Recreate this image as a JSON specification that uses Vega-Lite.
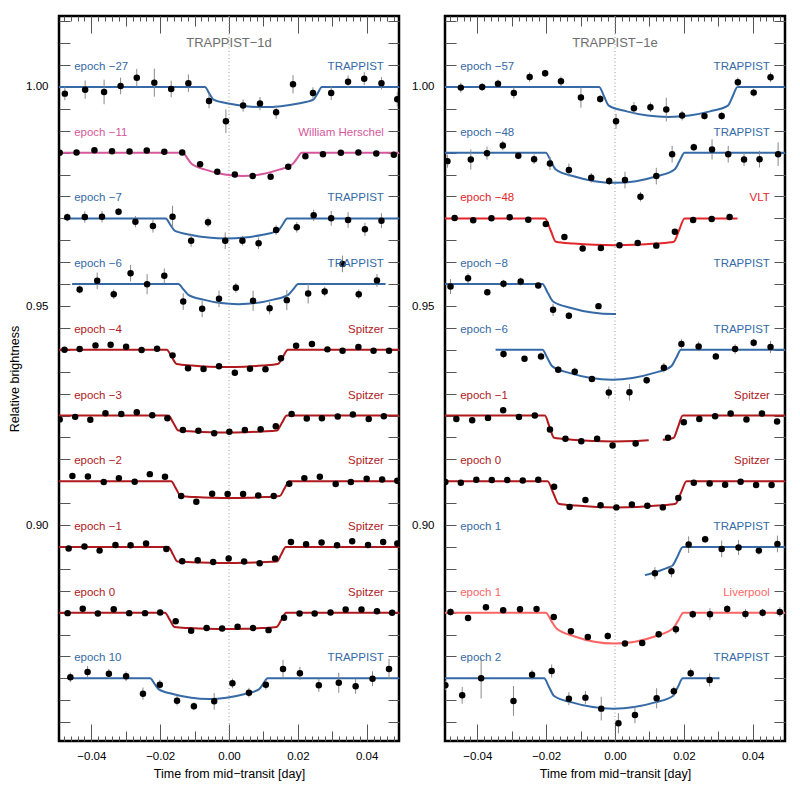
{
"$schema": "https://vega.github.io/schema/vega-lite/v6.json",
"padding": {"left": 7, "top": 14, "right": 5, "bottom": 5},
"config": {
  "font": "Liberation Sans",
  "view": {"stroke": "black", "strokeWidth": 2.5},
  "axis": {"domain": false, "grid": false, "tickColor": "#555", "tickWidth": 1, "labelColor": "black", "titleColor": "black", "labelFontSize": 11.5, "titleFontSize": 12.5, "titleFontWeight": "normal", "labelOverlap": false, "labelFlush": false, "labelBound": false},
  "concat": {"spacing": 9}
},
"datasets": {
"lab": [
{"p":"d","b":1.0,"ep":"epoch −27","i":"TRAPPIST"},
{"p":"d","b":0.985,"ep":"epoch −11","i":"William Herschel"},
{"p":"d","b":0.97,"ep":"epoch −7","i":"TRAPPIST"},
{"p":"d","b":0.955,"ep":"epoch −6","i":"TRAPPIST"},
{"p":"d","b":0.94,"ep":"epoch −4","i":"Spitzer"},
{"p":"d","b":0.925,"ep":"epoch −3","i":"Spitzer"},
{"p":"d","b":0.91,"ep":"epoch −2","i":"Spitzer"},
{"p":"d","b":0.895,"ep":"epoch −1","i":"Spitzer"},
{"p":"d","b":0.88,"ep":"epoch 0","i":"Spitzer"},
{"p":"d","b":0.865,"ep":"epoch 10","i":"TRAPPIST"},
{"p":"e","b":1.0,"ep":"epoch −57","i":"TRAPPIST"},
{"p":"e","b":0.985,"ep":"epoch −48","i":"TRAPPIST"},
{"p":"e","b":0.97,"ep":"epoch −48","i":"VLT"},
{"p":"e","b":0.955,"ep":"epoch −8","i":"TRAPPIST"},
{"p":"e","b":0.94,"ep":"epoch −6","i":"TRAPPIST"},
{"p":"e","b":0.925,"ep":"epoch −1","i":"Spitzer"},
{"p":"e","b":0.91,"ep":"epoch 0","i":"Spitzer"},
{"p":"e","b":0.895,"ep":"epoch 1","i":"TRAPPIST"},
{"p":"e","b":0.88,"ep":"epoch 1","i":"Liverpool"},
{"p":"e","b":0.865,"ep":"epoch 2","i":"TRAPPIST"}
],
"crv": [
{"p":"d","c":"d-27","i":"TRAPPIST","t":-0.0494,"v":1.0},{"p":"d","c":"d-27","i":"TRAPPIST","t":-0.007,"v":1.0},{"p":"d","c":"d-27","i":"TRAPPIST","t":-0.00575,"v":0.99855},{"p":"d","c":"d-27","i":"TRAPPIST","t":-0.0045,"v":0.9971},{"p":"d","c":"d-27","i":"TRAPPIST","t":-0.00015,"v":0.99623},{"p":"d","c":"d-27","i":"TRAPPIST","t":0.00493,"v":0.99561},{"p":"d","c":"d-27","i":"TRAPPIST","t":0.01,"v":0.9954},{"p":"d","c":"d-27","i":"TRAPPIST","t":0.01508,"v":0.99561},{"p":"d","c":"d-27","i":"TRAPPIST","t":0.02015,"v":0.99623},{"p":"d","c":"d-27","i":"TRAPPIST","t":0.0245,"v":0.9971},{"p":"d","c":"d-27","i":"TRAPPIST","t":0.02575,"v":0.99855},{"p":"d","c":"d-27","i":"TRAPPIST","t":0.027,"v":1.0},{"p":"d","c":"d-27","i":"TRAPPIST","t":0.0494,"v":1.0},
{"p":"d","c":"d-11","i":"William Herschel","t":-0.0494,"v":0.985},{"p":"d","c":"d-11","i":"William Herschel","t":-0.0134,"v":0.985},{"p":"d","c":"d-11","i":"William Herschel","t":-0.0121,"v":0.9837},{"p":"d","c":"d-11","i":"William Herschel","t":-0.0108,"v":0.9824},{"p":"d","c":"d-11","i":"William Herschel","t":-0.0064,"v":0.98102},{"p":"d","c":"d-11","i":"William Herschel","t":-0.00128,"v":0.98003},{"p":"d","c":"d-11","i":"William Herschel","t":0.00385,"v":0.9797},{"p":"d","c":"d-11","i":"William Herschel","t":0.00898,"v":0.98003},{"p":"d","c":"d-11","i":"William Herschel","t":0.01411,"v":0.98102},{"p":"d","c":"d-11","i":"William Herschel","t":0.0185,"v":0.9824},{"p":"d","c":"d-11","i":"William Herschel","t":0.0198,"v":0.9837},{"p":"d","c":"d-11","i":"William Herschel","t":0.0211,"v":0.985},{"p":"d","c":"d-11","i":"William Herschel","t":0.0494,"v":0.985},
{"p":"d","c":"d-7","i":"TRAPPIST","t":-0.048,"v":0.97},{"p":"d","c":"d-7","i":"TRAPPIST","t":-0.0184,"v":0.97},{"p":"d","c":"d-7","i":"TRAPPIST","t":-0.0171,"v":0.9686},{"p":"d","c":"d-7","i":"TRAPPIST","t":-0.0158,"v":0.9672},{"p":"d","c":"d-7","i":"TRAPPIST","t":-0.01129,"v":0.96628},{"p":"d","c":"d-7","i":"TRAPPIST","t":-0.00602,"v":0.96562},{"p":"d","c":"d-7","i":"TRAPPIST","t":-0.00075,"v":0.9654},{"p":"d","c":"d-7","i":"TRAPPIST","t":0.00452,"v":0.96562},{"p":"d","c":"d-7","i":"TRAPPIST","t":0.00979,"v":0.96628},{"p":"d","c":"d-7","i":"TRAPPIST","t":0.0143,"v":0.9672},{"p":"d","c":"d-7","i":"TRAPPIST","t":0.0156,"v":0.9686},{"p":"d","c":"d-7","i":"TRAPPIST","t":0.0169,"v":0.97},{"p":"d","c":"d-7","i":"TRAPPIST","t":0.0494,"v":0.97},
{"p":"d","c":"d-6","i":"TRAPPIST","t":-0.0456,"v":0.955},{"p":"d","c":"d-6","i":"TRAPPIST","t":-0.0147,"v":0.955},{"p":"d","c":"d-6","i":"TRAPPIST","t":-0.01325,"v":0.95378},{"p":"d","c":"d-6","i":"TRAPPIST","t":-0.0118,"v":0.95255},{"p":"d","c":"d-6","i":"TRAPPIST","t":-0.00745,"v":0.95145},{"p":"d","c":"d-6","i":"TRAPPIST","t":-0.00238,"v":0.95066},{"p":"d","c":"d-6","i":"TRAPPIST","t":0.0027,"v":0.9504},{"p":"d","c":"d-6","i":"TRAPPIST","t":0.00778,"v":0.95066},{"p":"d","c":"d-6","i":"TRAPPIST","t":0.01285,"v":0.95145},{"p":"d","c":"d-6","i":"TRAPPIST","t":0.0172,"v":0.95255},{"p":"d","c":"d-6","i":"TRAPPIST","t":0.01865,"v":0.95378},{"p":"d","c":"d-6","i":"TRAPPIST","t":0.0201,"v":0.955},{"p":"d","c":"d-6","i":"TRAPPIST","t":0.0455,"v":0.955},
{"p":"d","c":"d-4","i":"Spitzer","t":-0.0494,"v":0.94},{"p":"d","c":"d-4","i":"Spitzer","t":-0.0181,"v":0.94},{"p":"d","c":"d-4","i":"Spitzer","t":-0.01665,"v":0.93838},{"p":"d","c":"d-4","i":"Spitzer","t":-0.0152,"v":0.93676},{"p":"d","c":"d-4","i":"Spitzer","t":-0.01079,"v":0.93641},{"p":"d","c":"d-4","i":"Spitzer","t":-0.00565,"v":0.93616},{"p":"d","c":"d-4","i":"Spitzer","t":-0.0005,"v":0.93607},{"p":"d","c":"d-4","i":"Spitzer","t":0.00465,"v":0.93616},{"p":"d","c":"d-4","i":"Spitzer","t":0.00979,"v":0.93641},{"p":"d","c":"d-4","i":"Spitzer","t":0.0142,"v":0.93676},{"p":"d","c":"d-4","i":"Spitzer","t":0.01565,"v":0.93838},{"p":"d","c":"d-4","i":"Spitzer","t":0.0171,"v":0.94},{"p":"d","c":"d-4","i":"Spitzer","t":0.0494,"v":0.94},
{"p":"d","c":"d-3","i":"Spitzer","t":-0.0494,"v":0.925},{"p":"d","c":"d-3","i":"Spitzer","t":-0.0176,"v":0.925},{"p":"d","c":"d-3","i":"Spitzer","t":-0.01615,"v":0.92329},{"p":"d","c":"d-3","i":"Spitzer","t":-0.0147,"v":0.92157},{"p":"d","c":"d-3","i":"Spitzer","t":-0.01041,"v":0.92134},{"p":"d","c":"d-3","i":"Spitzer","t":-0.00541,"v":0.92117},{"p":"d","c":"d-3","i":"Spitzer","t":-0.0004,"v":0.92111},{"p":"d","c":"d-3","i":"Spitzer","t":0.00461,"v":0.92117},{"p":"d","c":"d-3","i":"Spitzer","t":0.00961,"v":0.92134},{"p":"d","c":"d-3","i":"Spitzer","t":0.0139,"v":0.92157},{"p":"d","c":"d-3","i":"Spitzer","t":0.01535,"v":0.92329},{"p":"d","c":"d-3","i":"Spitzer","t":0.0168,"v":0.925},{"p":"d","c":"d-3","i":"Spitzer","t":0.0494,"v":0.925},
{"p":"d","c":"d-2","i":"Spitzer","t":-0.0494,"v":0.91},{"p":"d","c":"d-2","i":"Spitzer","t":-0.0168,"v":0.91},{"p":"d","c":"d-2","i":"Spitzer","t":-0.0154,"v":0.90831},{"p":"d","c":"d-2","i":"Spitzer","t":-0.014,"v":0.90661},{"p":"d","c":"d-2","i":"Spitzer","t":-0.0097,"v":0.90638},{"p":"d","c":"d-2","i":"Spitzer","t":-0.00467,"v":0.90622},{"p":"d","c":"d-2","i":"Spitzer","t":0.00035,"v":0.90616},{"p":"d","c":"d-2","i":"Spitzer","t":0.00537,"v":0.90622},{"p":"d","c":"d-2","i":"Spitzer","t":0.0104,"v":0.90638},{"p":"d","c":"d-2","i":"Spitzer","t":0.0147,"v":0.90661},{"p":"d","c":"d-2","i":"Spitzer","t":0.0161,"v":0.90831},{"p":"d","c":"d-2","i":"Spitzer","t":0.0175,"v":0.91},{"p":"d","c":"d-2","i":"Spitzer","t":0.0494,"v":0.91},
{"p":"d","c":"d-1","i":"Spitzer","t":-0.0494,"v":0.895},{"p":"d","c":"d-1","i":"Spitzer","t":-0.0176,"v":0.895},{"p":"d","c":"d-1","i":"Spitzer","t":-0.0163,"v":0.89333},{"p":"d","c":"d-1","i":"Spitzer","t":-0.015,"v":0.89166},{"p":"d","c":"d-1","i":"Spitzer","t":-0.01067,"v":0.89151},{"p":"d","c":"d-1","i":"Spitzer","t":-0.00561,"v":0.8914},{"p":"d","c":"d-1","i":"Spitzer","t":-0.00055,"v":0.89136},{"p":"d","c":"d-1","i":"Spitzer","t":0.00451,"v":0.8914},{"p":"d","c":"d-1","i":"Spitzer","t":0.00957,"v":0.89151},{"p":"d","c":"d-1","i":"Spitzer","t":0.0139,"v":0.89166},{"p":"d","c":"d-1","i":"Spitzer","t":0.0152,"v":0.89333},{"p":"d","c":"d-1","i":"Spitzer","t":0.0165,"v":0.895},{"p":"d","c":"d-1","i":"Spitzer","t":0.0494,"v":0.895},
{"p":"d","c":"d0","i":"Spitzer","t":-0.0494,"v":0.88},{"p":"d","c":"d0","i":"Spitzer","t":-0.0186,"v":0.88},{"p":"d","c":"d0","i":"Spitzer","t":-0.0172,"v":0.87835},{"p":"d","c":"d0","i":"Spitzer","t":-0.0158,"v":0.8767},{"p":"d","c":"d0","i":"Spitzer","t":-0.01136,"v":0.87647},{"p":"d","c":"d0","i":"Spitzer","t":-0.00618,"v":0.8763},{"p":"d","c":"d0","i":"Spitzer","t":-0.001,"v":0.87624},{"p":"d","c":"d0","i":"Spitzer","t":0.00418,"v":0.8763},{"p":"d","c":"d0","i":"Spitzer","t":0.00936,"v":0.87647},{"p":"d","c":"d0","i":"Spitzer","t":0.0138,"v":0.8767},{"p":"d","c":"d0","i":"Spitzer","t":0.0152,"v":0.87835},{"p":"d","c":"d0","i":"Spitzer","t":0.0166,"v":0.88},{"p":"d","c":"d0","i":"Spitzer","t":0.0494,"v":0.88},
{"p":"d","c":"d10","i":"TRAPPIST","t":-0.0456,"v":0.865},{"p":"d","c":"d10","i":"TRAPPIST","t":-0.0229,"v":0.865},{"p":"d","c":"d10","i":"TRAPPIST","t":-0.02165,"v":0.86375},{"p":"d","c":"d10","i":"TRAPPIST","t":-0.0204,"v":0.8625},{"p":"d","c":"d10","i":"TRAPPIST","t":-0.01604,"v":0.86138},{"p":"d","c":"d10","i":"TRAPPIST","t":-0.01094,"v":0.86057},{"p":"d","c":"d10","i":"TRAPPIST","t":-0.00585,"v":0.8603},{"p":"d","c":"d10","i":"TRAPPIST","t":-0.00076,"v":0.86057},{"p":"d","c":"d10","i":"TRAPPIST","t":0.00434,"v":0.86138},{"p":"d","c":"d10","i":"TRAPPIST","t":0.0087,"v":0.8625},{"p":"d","c":"d10","i":"TRAPPIST","t":0.00995,"v":0.86375},{"p":"d","c":"d10","i":"TRAPPIST","t":0.0112,"v":0.865},{"p":"d","c":"d10","i":"TRAPPIST","t":0.0494,"v":0.865},
{"p":"e","c":"e-57","i":"TRAPPIST","t":-0.0494,"v":1.0},{"p":"e","c":"e-57","i":"TRAPPIST","t":-0.0046,"v":1.0},{"p":"e","c":"e-57","i":"TRAPPIST","t":-0.0032,"v":0.99788},{"p":"e","c":"e-57","i":"TRAPPIST","t":-0.0018,"v":0.99575},{"p":"e","c":"e-57","i":"TRAPPIST","t":0.00339,"v":0.99443},{"p":"e","c":"e-57","i":"TRAPPIST","t":0.00945,"v":0.99349},{"p":"e","c":"e-57","i":"TRAPPIST","t":0.0155,"v":0.99317},{"p":"e","c":"e-57","i":"TRAPPIST","t":0.02156,"v":0.99349},{"p":"e","c":"e-57","i":"TRAPPIST","t":0.02761,"v":0.99443},{"p":"e","c":"e-57","i":"TRAPPIST","t":0.0328,"v":0.99575},{"p":"e","c":"e-57","i":"TRAPPIST","t":0.0342,"v":0.99788},{"p":"e","c":"e-57","i":"TRAPPIST","t":0.0356,"v":1.0},{"p":"e","c":"e-57","i":"TRAPPIST","t":0.0494,"v":1.0},
{"p":"e","c":"e-48T","i":"TRAPPIST","t":-0.0494,"v":0.985},{"p":"e","c":"e-48T","i":"TRAPPIST","t":-0.0201,"v":0.985},{"p":"e","c":"e-48T","i":"TRAPPIST","t":-0.01865,"v":0.98309},{"p":"e","c":"e-48T","i":"TRAPPIST","t":-0.0172,"v":0.98117},{"p":"e","c":"e-48T","i":"TRAPPIST","t":-0.01203,"v":0.97962},{"p":"e","c":"e-48T","i":"TRAPPIST","t":-0.00599,"v":0.9785},{"p":"e","c":"e-48T","i":"TRAPPIST","t":0.00005,"v":0.97813},{"p":"e","c":"e-48T","i":"TRAPPIST","t":0.00609,"v":0.9785},{"p":"e","c":"e-48T","i":"TRAPPIST","t":0.01213,"v":0.97962},{"p":"e","c":"e-48T","i":"TRAPPIST","t":0.0173,"v":0.98117},{"p":"e","c":"e-48T","i":"TRAPPIST","t":0.01875,"v":0.98309},{"p":"e","c":"e-48T","i":"TRAPPIST","t":0.0202,"v":0.985},{"p":"e","c":"e-48T","i":"TRAPPIST","t":0.0494,"v":0.985},
{"p":"e","c":"e-48V","i":"VLT","t":-0.0494,"v":0.97},{"p":"e","c":"e-48V","i":"VLT","t":-0.0203,"v":0.97},{"p":"e","c":"e-48V","i":"VLT","t":-0.01875,"v":0.96735},{"p":"e","c":"e-48V","i":"VLT","t":-0.0172,"v":0.96469},{"p":"e","c":"e-48V","i":"VLT","t":-0.01206,"v":0.96427},{"p":"e","c":"e-48V","i":"VLT","t":-0.00605,"v":0.96396},{"p":"e","c":"e-48V","i":"VLT","t":-0.00005,"v":0.96386},{"p":"e","c":"e-48V","i":"VLT","t":0.00595,"v":0.96396},{"p":"e","c":"e-48V","i":"VLT","t":0.01196,"v":0.96427},{"p":"e","c":"e-48V","i":"VLT","t":0.0171,"v":0.96469},{"p":"e","c":"e-48V","i":"VLT","t":0.01865,"v":0.96735},{"p":"e","c":"e-48V","i":"VLT","t":0.0202,"v":0.97},{"p":"e","c":"e-48V","i":"VLT","t":0.0356,"v":0.97},
{"p":"e","c":"e-8","i":"TRAPPIST","t":-0.0494,"v":0.955},{"p":"e","c":"e-8","i":"TRAPPIST","t":-0.0211,"v":0.955},{"p":"e","c":"e-8","i":"TRAPPIST","t":-0.01955,"v":0.95302},{"p":"e","c":"e-8","i":"TRAPPIST","t":-0.018,"v":0.95103},{"p":"e","c":"e-8","i":"TRAPPIST","t":-0.01275,"v":0.94956},{"p":"e","c":"e-8","i":"TRAPPIST","t":-0.00663,"v":0.9485},{"p":"e","c":"e-8","i":"TRAPPIST","t":-0.0005,"v":0.94815},{"p":"e","c":"e-8","i":"TRAPPIST","t":0.0003,"v":0.94816},
{"p":"e","c":"e-6","i":"TRAPPIST","t":-0.0347,"v":0.94},{"p":"e","c":"e-6","i":"TRAPPIST","t":-0.0211,"v":0.94},{"p":"e","c":"e-6","i":"TRAPPIST","t":-0.01965,"v":0.93811},{"p":"e","c":"e-6","i":"TRAPPIST","t":-0.0182,"v":0.93622},{"p":"e","c":"e-6","i":"TRAPPIST","t":-0.01303,"v":0.93467},{"p":"e","c":"e-6","i":"TRAPPIST","t":-0.00699,"v":0.93356},{"p":"e","c":"e-6","i":"TRAPPIST","t":-0.00095,"v":0.93319},{"p":"e","c":"e-6","i":"TRAPPIST","t":0.00509,"v":0.93356},{"p":"e","c":"e-6","i":"TRAPPIST","t":0.01113,"v":0.93467},{"p":"e","c":"e-6","i":"TRAPPIST","t":0.0163,"v":0.93622},{"p":"e","c":"e-6","i":"TRAPPIST","t":0.01775,"v":0.93811},{"p":"e","c":"e-6","i":"TRAPPIST","t":0.0192,"v":0.94},{"p":"e","c":"e-6","i":"TRAPPIST","t":0.0494,"v":0.94},
{"p":"e","c":"e-1a","i":"Spitzer","t":-0.0494,"v":0.925},{"p":"e","c":"e-1a","i":"Spitzer","t":-0.0204,"v":0.925},{"p":"e","c":"e-1a","i":"Spitzer","t":-0.01905,"v":0.92246},{"p":"e","c":"e-1a","i":"Spitzer","t":-0.0177,"v":0.91991},{"p":"e","c":"e-1a","i":"Spitzer","t":-0.0125,"v":0.91948},{"p":"e","c":"e-1a","i":"Spitzer","t":-0.00642,"v":0.91917},{"p":"e","c":"e-1a","i":"Spitzer","t":-0.00035,"v":0.91907},{"p":"e","c":"e-1a","i":"Spitzer","t":0.00572,"v":0.91917},{"p":"e","c":"e-1a","i":"Spitzer","t":0.0098,"v":0.91936},
{"p":"e","c":"e-1b","i":"Spitzer","t":0.0139,"v":0.91945},{"p":"e","c":"e-1b","i":"Spitzer","t":0.017,"v":0.91991},{"p":"e","c":"e-1b","i":"Spitzer","t":0.01835,"v":0.92246},{"p":"e","c":"e-1b","i":"Spitzer","t":0.0197,"v":0.925},{"p":"e","c":"e-1b","i":"Spitzer","t":0.0494,"v":0.925},
{"p":"e","c":"e0","i":"Spitzer","t":-0.0494,"v":0.91},{"p":"e","c":"e0","i":"Spitzer","t":-0.0196,"v":0.91},{"p":"e","c":"e0","i":"Spitzer","t":-0.018,"v":0.90744},{"p":"e","c":"e0","i":"Spitzer","t":-0.0164,"v":0.90487},{"p":"e","c":"e0","i":"Spitzer","t":-0.0113,"v":0.90444},{"p":"e","c":"e0","i":"Spitzer","t":-0.00535,"v":0.90413},{"p":"e","c":"e0","i":"Spitzer","t":0.0006,"v":0.90403},{"p":"e","c":"e0","i":"Spitzer","t":0.00655,"v":0.90413},{"p":"e","c":"e0","i":"Spitzer","t":0.0125,"v":0.90444},{"p":"e","c":"e0","i":"Spitzer","t":0.0176,"v":0.90487},{"p":"e","c":"e0","i":"Spitzer","t":0.0192,"v":0.90744},{"p":"e","c":"e0","i":"Spitzer","t":0.0208,"v":0.91},{"p":"e","c":"e0","i":"Spitzer","t":0.0494,"v":0.91},
{"p":"e","c":"e1T","i":"TRAPPIST","t":0.0087,"v":0.88856},{"p":"e","c":"e1T","i":"TRAPPIST","t":0.011,"v":0.88905},{"p":"e","c":"e1T","i":"TRAPPIST","t":0.013,"v":0.88957},{"p":"e","c":"e1T","i":"TRAPPIST","t":0.015,"v":0.89017},{"p":"e","c":"e1T","i":"TRAPPIST","t":0.0167,"v":0.89075},{"p":"e","c":"e1T","i":"TRAPPIST","t":0.0182,"v":0.89288},{"p":"e","c":"e1T","i":"TRAPPIST","t":0.0197,"v":0.895},{"p":"e","c":"e1T","i":"TRAPPIST","t":0.0494,"v":0.895},
{"p":"e","c":"e1L","i":"Liverpool","t":-0.0494,"v":0.88},{"p":"e","c":"e1L","i":"Liverpool","t":-0.0201,"v":0.88},{"p":"e","c":"e1L","i":"Liverpool","t":-0.01855,"v":0.87818},{"p":"e","c":"e1L","i":"Liverpool","t":-0.017,"v":0.87636},{"p":"e","c":"e1L","i":"Liverpool","t":-0.01193,"v":0.87462},{"p":"e","c":"e1L","i":"Liverpool","t":-0.00602,"v":0.87336},{"p":"e","c":"e1L","i":"Liverpool","t":-0.0001,"v":0.87294},{"p":"e","c":"e1L","i":"Liverpool","t":0.00582,"v":0.87336},{"p":"e","c":"e1L","i":"Liverpool","t":0.01173,"v":0.87462},{"p":"e","c":"e1L","i":"Liverpool","t":0.0168,"v":0.87636},{"p":"e","c":"e1L","i":"Liverpool","t":0.01835,"v":0.87818},{"p":"e","c":"e1L","i":"Liverpool","t":0.0199,"v":0.88},{"p":"e","c":"e1L","i":"Liverpool","t":0.0494,"v":0.88},
{"p":"e","c":"e2","i":"TRAPPIST","t":-0.0494,"v":0.865},{"p":"e","c":"e2","i":"TRAPPIST","t":-0.0206,"v":0.865},{"p":"e","c":"e2","i":"TRAPPIST","t":-0.01915,"v":0.86299},{"p":"e","c":"e2","i":"TRAPPIST","t":-0.0177,"v":0.86098},{"p":"e","c":"e2","i":"TRAPPIST","t":-0.01253,"v":0.85951},{"p":"e","c":"e2","i":"TRAPPIST","t":-0.00649,"v":0.85844},{"p":"e","c":"e2","i":"TRAPPIST","t":-0.00045,"v":0.85809},{"p":"e","c":"e2","i":"TRAPPIST","t":0.00559,"v":0.85844},{"p":"e","c":"e2","i":"TRAPPIST","t":0.01163,"v":0.85951},{"p":"e","c":"e2","i":"TRAPPIST","t":0.0168,"v":0.86098},{"p":"e","c":"e2","i":"TRAPPIST","t":0.01825,"v":0.86299},{"p":"e","c":"e2","i":"TRAPPIST","t":0.0197,"v":0.865},{"p":"e","c":"e2","i":"TRAPPIST","t":0.0304,"v":0.865}
],
"pts": [
{"p":"d","t":-0.0477,"v":0.99848,"e":0.0015},{"p":"d","t":-0.0418,"v":0.99939,"e":0.0021},{"p":"d","t":-0.0363,"v":0.99886,"e":0.0028},{"p":"d","t":-0.0315,"v":1.00023,"e":0.0019},{"p":"d","t":-0.0268,"v":1.00213,"e":0.002},{"p":"d","t":-0.0217,"v":1.00099,"e":0.0032},{"p":"d","t":-0.0168,"v":0.99954,"e":0.0019},{"p":"d","t":-0.0118,"v":1.00084,"e":0.002},{"p":"d","t":-0.0058,"v":0.99681,"e":0.0017},{"p":"d","t":-0.0009,"v":0.99218,"e":0.0027},{"p":"d","t":0.0041,"v":0.99575,"e":0.0014},{"p":"d","t":0.009,"v":0.9962,"e":0.0015},{"p":"d","t":0.0137,"v":0.99423,"e":0.0015},{"p":"d","t":0.0186,"v":1.00061,"e":0.0021},{"p":"d","t":0.0244,"v":0.99863,"e":0.0013},{"p":"d","t":0.0297,"v":0.99863,"e":0.0016},{"p":"d","t":0.0346,"v":1.00121,"e":0.0014},{"p":"d","t":0.0393,"v":1.0019,"e":0.0015},{"p":"d","t":0.0443,"v":1.00084,"e":0.0014},{"p":"d","t":0.0489,"v":0.99719,"e":0.0016},
{"p":"d","t":-0.0492,"v":0.98497,"e":0.0003},{"p":"d","t":-0.0443,"v":0.98504,"e":0.0003},{"p":"d","t":-0.0391,"v":0.98557,"e":0.0003},{"p":"d","t":-0.034,"v":0.98535,"e":0.0003},{"p":"d","t":-0.0289,"v":0.98527,"e":0.0003},{"p":"d","t":-0.0239,"v":0.9855,"e":0.0003},{"p":"d","t":-0.0188,"v":0.98519,"e":0.0003},{"p":"d","t":-0.0136,"v":0.98504,"e":0.0003},{"p":"d","t":-0.0084,"v":0.98238,"e":0.0003},{"p":"d","t":-0.0034,"v":0.98064,"e":0.0003},{"p":"d","t":0.0017,"v":0.98003,"e":0.0003},{"p":"d","t":0.0069,"v":0.97965,"e":0.0003},{"p":"d","t":0.0121,"v":0.9795,"e":0.0003},{"p":"d","t":0.0172,"v":0.98178,"e":0.0003},{"p":"d","t":0.0222,"v":0.98421,"e":0.0003},{"p":"d","t":0.0273,"v":0.98466,"e":0.0003},{"p":"d","t":0.0325,"v":0.98497,"e":0.0003},{"p":"d","t":0.0376,"v":0.98504,"e":0.0003},{"p":"d","t":0.0428,"v":0.98481,"e":0.0003},{"p":"d","t":0.0479,"v":0.98451,"e":0.0003},
{"p":"d","t":-0.047,"v":0.97024,"e":0.0009},{"p":"d","t":-0.0419,"v":0.97031,"e":0.0013},{"p":"d","t":-0.0369,"v":0.97039,"e":0.0013},{"p":"d","t":-0.0321,"v":0.97153,"e":0.0008},{"p":"d","t":-0.0272,"v":0.96925,"e":0.0013},{"p":"d","t":-0.0221,"v":0.96826,"e":0.0015},{"p":"d","t":-0.0164,"v":0.97039,"e":0.0025},{"p":"d","t":-0.011,"v":0.96492,"e":0.0014},{"p":"d","t":-0.0061,"v":0.9691,"e":0.0011},{"p":"d","t":-0.0011,"v":0.96492,"e":0.0019},{"p":"d","t":0.0039,"v":0.96492,"e":0.0011},{"p":"d","t":0.0086,"v":0.96431,"e":0.0013},{"p":"d","t":0.0137,"v":0.96735,"e":0.0011},{"p":"d","t":0.0197,"v":0.96796,"e":0.0012},{"p":"d","t":0.0246,"v":0.97069,"e":0.0013},{"p":"d","t":0.0297,"v":0.97001,"e":0.0017},{"p":"d","t":0.0346,"v":0.96963,"e":0.0018},{"p":"d","t":0.0395,"v":0.9675,"e":0.0015},{"p":"d","t":0.0443,"v":0.96948,"e":0.0017},
{"p":"d","t":-0.0434,"v":0.95377,"e":0.0009},{"p":"d","t":-0.0383,"v":0.95574,"e":0.0019},{"p":"d","t":-0.0335,"v":0.9527,"e":0.0011},{"p":"d","t":-0.0286,"v":0.95749,"e":0.0019},{"p":"d","t":-0.0238,"v":0.95498,"e":0.0023},{"p":"d","t":-0.0188,"v":0.95688,"e":0.0017},{"p":"d","t":-0.0133,"v":0.95101,"e":0.0019},{"p":"d","t":-0.0078,"v":0.94936,"e":0.0019},{"p":"d","t":-0.0029,"v":0.95164,"e":0.0019},{"p":"d","t":0.002,"v":0.95415,"e":0.0011},{"p":"d","t":0.007,"v":0.95119,"e":0.0023},{"p":"d","t":0.0118,"v":0.94951,"e":0.0014},{"p":"d","t":0.0168,"v":0.95134,"e":0.0023},{"p":"d","t":0.023,"v":0.95286,"e":0.0023},{"p":"d","t":0.0278,"v":0.95331,"e":0.0011},{"p":"d","t":0.033,"v":0.95961,"e":0.0019},{"p":"d","t":0.0377,"v":0.9527,"e":0.0011},{"p":"d","t":0.043,"v":0.95582,"e":0.0015},
{"p":"d","t":-0.0478,"v":0.94002,"e":0.0003},{"p":"d","t":-0.0434,"v":0.94017,"e":0.0003},{"p":"d","t":-0.0388,"v":0.94101,"e":0.0003},{"p":"d","t":-0.0344,"v":0.94116,"e":0.0003},{"p":"d","t":-0.0299,"v":0.94071,"e":0.0003},{"p":"d","t":-0.0254,"v":0.93995,"e":0.0003},{"p":"d","t":-0.0209,"v":0.94025,"e":0.0003},{"p":"d","t":-0.0164,"v":0.93873,"e":0.0003},{"p":"d","t":-0.0119,"v":0.93577,"e":0.0003},{"p":"d","t":-0.0074,"v":0.93562,"e":0.0003},{"p":"d","t":-0.0029,"v":0.93623,"e":0.0003},{"p":"d","t":0.0017,"v":0.93478,"e":0.0003},{"p":"d","t":0.0061,"v":0.93569,"e":0.0003},{"p":"d","t":0.0106,"v":0.93554,"e":0.0003},{"p":"d","t":0.0151,"v":0.93805,"e":0.0003},{"p":"d","t":0.0195,"v":0.94093,"e":0.0003},{"p":"d","t":0.0241,"v":0.94131,"e":0.0003},{"p":"d","t":0.0286,"v":0.9401,"e":0.0003},{"p":"d","t":0.033,"v":0.93979,"e":0.0003},{"p":"d","t":0.0376,"v":0.94063,"e":0.0003},{"p":"d","t":0.042,"v":0.93979,"e":0.0003},{"p":"d","t":0.0465,"v":0.93979,"e":0.0003},
{"p":"d","t":-0.0492,"v":0.92408,"e":0.0003},{"p":"d","t":-0.0447,"v":0.92469,"e":0.0003},{"p":"d","t":-0.0403,"v":0.92401,"e":0.0003},{"p":"d","t":-0.0359,"v":0.92553,"e":0.0003},{"p":"d","t":-0.0313,"v":0.92537,"e":0.0003},{"p":"d","t":-0.0268,"v":0.92575,"e":0.0003},{"p":"d","t":-0.0223,"v":0.92507,"e":0.0003},{"p":"d","t":-0.0179,"v":0.92438,"e":0.0003},{"p":"d","t":-0.0134,"v":0.92172,"e":0.0003},{"p":"d","t":-0.0089,"v":0.9215,"e":0.0003},{"p":"d","t":-0.0043,"v":0.92096,"e":0.0003},{"p":"d","t":0.0001,"v":0.92127,"e":0.0003},{"p":"d","t":0.0046,"v":0.92172,"e":0.0003},{"p":"d","t":0.0092,"v":0.92188,"e":0.0003},{"p":"d","t":0.0136,"v":0.92256,"e":0.0003},{"p":"d","t":0.0182,"v":0.92537,"e":0.0003},{"p":"d","t":0.0226,"v":0.92431,"e":0.0003},{"p":"d","t":0.027,"v":0.92438,"e":0.0003},{"p":"d","t":0.0316,"v":0.92476,"e":0.0003},{"p":"d","t":0.036,"v":0.92522,"e":0.0003},{"p":"d","t":0.0406,"v":0.92423,"e":0.0003},{"p":"d","t":0.045,"v":0.92484,"e":0.0003},
{"p":"d","t":-0.0455,"v":0.91117,"e":0.0003},{"p":"d","t":-0.041,"v":0.91109,"e":0.0003},{"p":"d","t":-0.0364,"v":0.9098,"e":0.0003},{"p":"d","t":-0.032,"v":0.91071,"e":0.0003},{"p":"d","t":-0.0274,"v":0.90988,"e":0.0003},{"p":"d","t":-0.023,"v":0.91162,"e":0.0003},{"p":"d","t":-0.0186,"v":0.91102,"e":0.0003},{"p":"d","t":-0.0139,"v":0.90661,"e":0.0003},{"p":"d","t":-0.0095,"v":0.90532,"e":0.0003},{"p":"d","t":-0.0049,"v":0.90714,"e":0.0003},{"p":"d","t":-0.0004,"v":0.90707,"e":0.0003},{"p":"d","t":0.0041,"v":0.90707,"e":0.0003},{"p":"d","t":0.0085,"v":0.90677,"e":0.0003},{"p":"d","t":0.013,"v":0.90661,"e":0.0003},{"p":"d","t":0.0175,"v":0.90942,"e":0.0003},{"p":"d","t":0.0219,"v":0.91071,"e":0.0003},{"p":"d","t":0.0264,"v":0.91102,"e":0.0003},{"p":"d","t":0.031,"v":0.90935,"e":0.0003},{"p":"d","t":0.0354,"v":0.9098,"e":0.0003},{"p":"d","t":0.04,"v":0.91056,"e":0.0003},{"p":"d","t":0.0445,"v":0.91041,"e":0.0003},{"p":"d","t":0.0489,"v":0.91011,"e":0.0003},
{"p":"d","t":-0.0466,"v":0.89462,"e":0.0003},{"p":"d","t":-0.042,"v":0.89508,"e":0.0003},{"p":"d","t":-0.0376,"v":0.89416,"e":0.0003},{"p":"d","t":-0.033,"v":0.89546,"e":0.0003},{"p":"d","t":-0.0286,"v":0.89538,"e":0.0003},{"p":"d","t":-0.0241,"v":0.89576,"e":0.0003},{"p":"d","t":-0.0182,"v":0.89454,"e":0.0003},{"p":"d","t":-0.0136,"v":0.89173,"e":0.0003},{"p":"d","t":-0.0091,"v":0.89196,"e":0.0003},{"p":"d","t":-0.0046,"v":0.89158,"e":0.0003},{"p":"d","t":-0.0001,"v":0.89234,"e":0.0003},{"p":"d","t":0.0044,"v":0.89166,"e":0.0003},{"p":"d","t":0.0089,"v":0.89128,"e":0.0003},{"p":"d","t":0.0134,"v":0.89234,"e":0.0003},{"p":"d","t":0.018,"v":0.89614,"e":0.0003},{"p":"d","t":0.0224,"v":0.89561,"e":0.0003},{"p":"d","t":0.0269,"v":0.89599,"e":0.0003},{"p":"d","t":0.0314,"v":0.89538,"e":0.0003},{"p":"d","t":0.0358,"v":0.89629,"e":0.0003},{"p":"d","t":0.0404,"v":0.89546,"e":0.0003},{"p":"d","t":0.0448,"v":0.89614,"e":0.0003},{"p":"d","t":0.0489,"v":0.89576,"e":0.0003},
{"p":"d","t":-0.0469,"v":0.87989,"e":0.0003},{"p":"d","t":-0.0425,"v":0.88087,"e":0.0003},{"p":"d","t":-0.0381,"v":0.87981,"e":0.0003},{"p":"d","t":-0.0335,"v":0.8808,"e":0.0003},{"p":"d","t":-0.029,"v":0.87989,"e":0.0003},{"p":"d","t":-0.0244,"v":0.87989,"e":0.0003},{"p":"d","t":-0.02,"v":0.88004,"e":0.0003},{"p":"d","t":-0.0155,"v":0.87806,"e":0.0003},{"p":"d","t":-0.011,"v":0.87586,"e":0.0003},{"p":"d","t":-0.0065,"v":0.87647,"e":0.0003},{"p":"d","t":-0.002,"v":0.87639,"e":0.0003},{"p":"d","t":0.0025,"v":0.87677,"e":0.0003},{"p":"d","t":0.007,"v":0.87647,"e":0.0003},{"p":"d","t":0.0115,"v":0.87601,"e":0.0003},{"p":"d","t":0.016,"v":0.87882,"e":0.0003},{"p":"d","t":0.0205,"v":0.87981,"e":0.0003},{"p":"d","t":0.0249,"v":0.87981,"e":0.0003},{"p":"d","t":0.0295,"v":0.88004,"e":0.0003},{"p":"d","t":0.0339,"v":0.88072,"e":0.0003},{"p":"d","t":0.0385,"v":0.88072,"e":0.0003},{"p":"d","t":0.043,"v":0.88034,"e":0.0003},{"p":"d","t":0.0474,"v":0.87996,"e":0.0003},
{"p":"d","t":-0.0461,"v":0.86523,"e":0.0011},{"p":"d","t":-0.0411,"v":0.86644,"e":0.0014},{"p":"d","t":-0.0349,"v":0.86606,"e":0.0011},{"p":"d","t":-0.0299,"v":0.86546,"e":0.0011},{"p":"d","t":-0.025,"v":0.86151,"e":0.0014},{"p":"d","t":-0.0201,"v":0.86356,"e":0.0011},{"p":"d","t":-0.0151,"v":0.85991,"e":0.0011},{"p":"d","t":-0.0102,"v":0.85862,"e":0.0009},{"p":"d","t":-0.0043,"v":0.85976,"e":0.0019},{"p":"d","t":0.001,"v":0.86386,"e":0.0011},{"p":"d","t":0.0058,"v":0.86173,"e":0.0011},{"p":"d","t":0.0107,"v":0.86356,"e":0.0011},{"p":"d","t":0.0157,"v":0.86713,"e":0.0021},{"p":"d","t":0.0206,"v":0.86614,"e":0.0015},{"p":"d","t":0.0261,"v":0.86341,"e":0.0015},{"p":"d","t":0.0319,"v":0.86401,"e":0.0023},{"p":"d","t":0.0368,"v":0.86318,"e":0.0017},{"p":"d","t":0.0417,"v":0.86492,"e":0.0017},{"p":"d","t":0.0465,"v":0.86713,"e":0.0023},
{"p":"e","t":-0.0448,"v":0.99985,"e":0.0011},{"p":"e","t":-0.0386,"v":1.0,"e":0.0009},{"p":"e","t":-0.034,"v":1.00076,"e":0.0009},{"p":"e","t":-0.0294,"v":0.99863,"e":0.0013},{"p":"e","t":-0.0248,"v":1.00228,"e":0.0011},{"p":"e","t":-0.0203,"v":1.00311,"e":0.0008},{"p":"e","t":-0.0157,"v":1.00129,"e":0.0011},{"p":"e","t":-0.0099,"v":0.99757,"e":0.0023},{"p":"e","t":-0.0043,"v":0.99727,"e":0.0009},{"p":"e","t":0.0003,"v":0.99218,"e":0.0017},{"p":"e","t":0.0055,"v":0.99514,"e":0.0014},{"p":"e","t":0.0103,"v":0.99537,"e":0.0011},{"p":"e","t":0.0149,"v":0.99484,"e":0.0027},{"p":"e","t":0.0195,"v":0.99347,"e":0.0011},{"p":"e","t":0.026,"v":0.99339,"e":0.0008},{"p":"e","t":0.031,"v":0.99339,"e":0.0009},{"p":"e","t":0.0357,"v":1.00106,"e":0.0011},{"p":"e","t":0.0403,"v":0.99871,"e":0.0009},{"p":"e","t":0.0452,"v":1.0022,"e":0.0011},
{"p":"e","t":-0.0487,"v":0.98307,"e":0.0015},{"p":"e","t":-0.0419,"v":0.98345,"e":0.0023},{"p":"e","t":-0.0372,"v":0.98489,"e":0.0015},{"p":"e","t":-0.0326,"v":0.98664,"e":0.0011},{"p":"e","t":-0.0281,"v":0.98428,"e":0.0008},{"p":"e","t":-0.0235,"v":0.98352,"e":0.0011},{"p":"e","t":-0.0189,"v":0.98254,"e":0.0015},{"p":"e","t":-0.0134,"v":0.98102,"e":0.0015},{"p":"e","t":-0.0069,"v":0.97927,"e":0.0011},{"p":"e","t":-0.0017,"v":0.97851,"e":0.0009},{"p":"e","t":0.0029,"v":0.97874,"e":0.0019},{"p":"e","t":0.0074,"v":0.97494,"e":0.0011},{"p":"e","t":0.012,"v":0.97965,"e":0.0019},{"p":"e","t":0.0166,"v":0.98466,"e":0.0019},{"p":"e","t":0.0229,"v":0.98626,"e":0.0008},{"p":"e","t":0.0282,"v":0.98573,"e":0.0023},{"p":"e","t":0.0329,"v":0.98466,"e":0.0019},{"p":"e","t":0.0375,"v":0.98345,"e":0.0015},{"p":"e","t":0.042,"v":0.98352,"e":0.0019},{"p":"e","t":0.0474,"v":0.98466,"e":0.0027},
{"p":"e","t":-0.0466,"v":0.97008,"e":0.0003},{"p":"e","t":-0.0412,"v":0.96955,"e":0.0003},{"p":"e","t":-0.0359,"v":0.97001,"e":0.0003},{"p":"e","t":-0.0306,"v":0.97024,"e":0.0003},{"p":"e","t":-0.0252,"v":0.96971,"e":0.0003},{"p":"e","t":-0.0201,"v":0.96872,"e":0.0003},{"p":"e","t":-0.0147,"v":0.96576,"e":0.0003},{"p":"e","t":-0.0094,"v":0.9631,"e":0.0003},{"p":"e","t":-0.0041,"v":0.96325,"e":0.0003},{"p":"e","t":0.0013,"v":0.96386,"e":0.0003},{"p":"e","t":0.0066,"v":0.96439,"e":0.0003},{"p":"e","t":0.012,"v":0.96378,"e":0.0003},{"p":"e","t":0.0174,"v":0.96697,"e":0.0003},{"p":"e","t":0.0227,"v":0.96963,"e":0.0003},{"p":"e","t":0.0281,"v":0.96986,"e":0.0003},{"p":"e","t":0.0333,"v":0.97031,"e":0.0003},
{"p":"e","t":-0.0478,"v":0.95445,"e":0.0017},{"p":"e","t":-0.0427,"v":0.95635,"e":0.0011},{"p":"e","t":-0.0371,"v":0.95316,"e":0.0006},{"p":"e","t":-0.0324,"v":0.95506,"e":0.0009},{"p":"e","t":-0.0274,"v":0.95559,"e":0.0009},{"p":"e","t":-0.0223,"v":0.95468,"e":0.0006},{"p":"e","t":-0.018,"v":0.94913,"e":0.0014},{"p":"e","t":-0.0134,"v":0.94777,"e":0.0008},{"p":"e","t":-0.0048,"v":0.94997,"e":0.0006},
{"p":"e","t":-0.0324,"v":0.93904,"e":0.0009},{"p":"e","t":-0.0263,"v":0.93797,"e":0.0006},{"p":"e","t":-0.0215,"v":0.9385,"e":0.0009},{"p":"e","t":-0.0165,"v":0.93547,"e":0.0008},{"p":"e","t":-0.0117,"v":0.93501,"e":0.0009},{"p":"e","t":-0.0067,"v":0.93334,"e":0.0006},{"p":"e","t":-0.0018,"v":0.93023,"e":0.0014},{"p":"e","t":0.0042,"v":0.9303,"e":0.0019},{"p":"e","t":0.0092,"v":0.93304,"e":0.0008},{"p":"e","t":0.0142,"v":0.93592,"e":0.0011},{"p":"e","t":0.0193,"v":0.94131,"e":0.0011},{"p":"e","t":0.0243,"v":0.94078,"e":0.0011},{"p":"e","t":0.0293,"v":0.9385,"e":0.0008},{"p":"e","t":0.0349,"v":0.94017,"e":0.0011},{"p":"e","t":0.0403,"v":0.94162,"e":0.0009},{"p":"e","t":0.0452,"v":0.94063,"e":0.0014},
{"p":"e","t":-0.0461,"v":0.92423,"e":0.0003},{"p":"e","t":-0.0415,"v":0.92393,"e":0.0003},{"p":"e","t":-0.0369,"v":0.92446,"e":0.0003},{"p":"e","t":-0.0325,"v":0.9262,"e":0.0003},{"p":"e","t":-0.0279,"v":0.92468,"e":0.0003},{"p":"e","t":-0.0233,"v":0.92499,"e":0.0003},{"p":"e","t":-0.0189,"v":0.9218,"e":0.0003},{"p":"e","t":-0.0144,"v":0.91968,"e":0.0003},{"p":"e","t":-0.0098,"v":0.91915,"e":0.0003},{"p":"e","t":-0.0052,"v":0.91968,"e":0.0003},{"p":"e","t":-0.0007,"v":0.91816,"e":0.0003},{"p":"e","t":0.006,"v":0.91861,"e":0.0003},{"p":"e","t":0.0154,"v":0.9199,"e":0.0003},{"p":"e","t":0.02,"v":0.92347,"e":0.0003},{"p":"e","t":0.0245,"v":0.92423,"e":0.0003},{"p":"e","t":0.0291,"v":0.92484,"e":0.0003},{"p":"e","t":0.0336,"v":0.92544,"e":0.0003},{"p":"e","t":0.0382,"v":0.92408,"e":0.0003},{"p":"e","t":0.0427,"v":0.92544,"e":0.0003},{"p":"e","t":0.0471,"v":0.92362,"e":0.0003},
{"p":"e","t":-0.0493,"v":0.9098,"e":0.0003},{"p":"e","t":-0.0448,"v":0.90965,"e":0.0003},{"p":"e","t":-0.0403,"v":0.91033,"e":0.0003},{"p":"e","t":-0.0358,"v":0.91026,"e":0.0003},{"p":"e","t":-0.0313,"v":0.91026,"e":0.0003},{"p":"e","t":-0.0268,"v":0.91018,"e":0.0003},{"p":"e","t":-0.0223,"v":0.91033,"e":0.0003},{"p":"e","t":-0.0177,"v":0.90874,"e":0.0003},{"p":"e","t":-0.0132,"v":0.90411,"e":0.0003},{"p":"e","t":-0.0086,"v":0.9057,"e":0.0003},{"p":"e","t":-0.0042,"v":0.90449,"e":0.0003},{"p":"e","t":0.0004,"v":0.90403,"e":0.0003},{"p":"e","t":0.0049,"v":0.90471,"e":0.0003},{"p":"e","t":0.0094,"v":0.90441,"e":0.0003},{"p":"e","t":0.0139,"v":0.90403,"e":0.0003},{"p":"e","t":0.0184,"v":0.90616,"e":0.0003},{"p":"e","t":0.0229,"v":0.90965,"e":0.0003},{"p":"e","t":0.0275,"v":0.9095,"e":0.0003},{"p":"e","t":0.032,"v":0.9092,"e":0.0003},{"p":"e","t":0.0365,"v":0.90988,"e":0.0003},{"p":"e","t":0.041,"v":0.90912,"e":0.0003},{"p":"e","t":0.0455,"v":0.90912,"e":0.0003},
{"p":"e","t":0.0116,"v":0.889,"e":0.0014},{"p":"e","t":0.0164,"v":0.88946,"e":0.0014},{"p":"e","t":0.0214,"v":0.89553,"e":0.0019},{"p":"e","t":0.0262,"v":0.89675,"e":0.0008},{"p":"e","t":0.031,"v":0.89454,"e":0.0019},{"p":"e","t":0.0359,"v":0.89485,"e":0.0017},{"p":"e","t":0.0418,"v":0.89416,"e":0.0009},{"p":"e","t":0.0472,"v":0.89568,"e":0.0019},
{"p":"e","t":-0.0478,"v":0.88015,"e":0.0008},{"p":"e","t":-0.0427,"v":0.87879,"e":0.0006},{"p":"e","t":-0.0375,"v":0.88121,"e":0.0006},{"p":"e","t":-0.0325,"v":0.88053,"e":0.0006},{"p":"e","t":-0.0276,"v":0.88076,"e":0.0006},{"p":"e","t":-0.0228,"v":0.88084,"e":0.0006},{"p":"e","t":-0.0178,"v":0.87901,"e":0.0006},{"p":"e","t":-0.0128,"v":0.87575,"e":0.0006},{"p":"e","t":-0.0079,"v":0.87446,"e":0.0006},{"p":"e","t":-0.0021,"v":0.87468,"e":0.0008},{"p":"e","t":0.0029,"v":0.87294,"e":0.0006},{"p":"e","t":0.0079,"v":0.87309,"e":0.0006},{"p":"e","t":0.0127,"v":0.87506,"e":0.0008},{"p":"e","t":0.0177,"v":0.8762,"e":0.0011},{"p":"e","t":0.0226,"v":0.87962,"e":0.0009},{"p":"e","t":0.0276,"v":0.87962,"e":0.0014},{"p":"e","t":0.0326,"v":0.88084,"e":0.0009},{"p":"e","t":0.0379,"v":0.8797,"e":0.0011},{"p":"e","t":0.0429,"v":0.88,"e":0.0009},{"p":"e","t":0.0479,"v":0.88015,"e":0.0011},
{"p":"e","t":-0.0493,"v":0.86341,"e":0.0011},{"p":"e","t":-0.0444,"v":0.86113,"e":0.0019},{"p":"e","t":-0.0389,"v":0.865,"e":0.0046},{"p":"e","t":-0.0295,"v":0.85984,"e":0.0034},{"p":"e","t":-0.0241,"v":0.86584,"e":0.0011},{"p":"e","t":-0.0184,"v":0.86667,"e":0.0015},{"p":"e","t":-0.0134,"v":0.86037,"e":0.0015},{"p":"e","t":-0.0086,"v":0.8606,"e":0.0015},{"p":"e","t":-0.004,"v":0.85809,"e":0.0027},{"p":"e","t":0.001,"v":0.85475,"e":0.0023},{"p":"e","t":0.0058,"v":0.85665,"e":0.0019},{"p":"e","t":0.0121,"v":0.86044,"e":0.0023},{"p":"e","t":0.0171,"v":0.86204,"e":0.0011},{"p":"e","t":0.022,"v":0.86614,"e":0.0011},{"p":"e","t":0.0275,"v":0.86462,"e":0.0015}
]
},
"hconcat": [
{
"width": 340, "height": 725,
"resolve": {"axis": {"x": "independent", "y": "independent"}},
"layer": [
{"data": {"values": [{}]},
 "mark": {"type": "rule", "color": "#999", "strokeDash": [1, 2.5], "strokeWidth": 1},
 "encoding": {"x": {"datum": 0, "type": "quantitative", "scale": {"domain": [-0.0494, 0.0494], "nice": false, "zero": false},
   "axis": {"orient": "bottom", "values": [-0.04, -0.02, 0, 0.02, 0.04], "format": ".2f", "offset": -17, "tickSize": 17, "labelPadding": 9, "title": "Time from mid−transit [day]", "titlePadding": 6}}}},
{"data": {"name": "crv"}, "transform": [{"filter": "datum.p == 'd'"}],
 "mark": {"type": "line", "strokeWidth": 2, "interpolate": "monotone", "clip": true},
 "encoding": {
   "x": {"field": "t", "type": "quantitative", "scale": {"domain": [-0.0494, 0.0494], "nice": false, "zero": false},
     "axis": {"orient": "bottom", "values": [-0.03, -0.01, 0.01, 0.03], "offset": -10, "tickSize": 10, "labels": false, "title": null}},
   "y": {"field": "v", "type": "quantitative", "scale": {"domain": [0.8507, 1.0162], "nice": false, "zero": false},
     "axis": {"orient": "left", "values": [0.855,0.86,0.865,0.87,0.875,0.88,0.885,0.89,0.895,0.9,0.905,0.91,0.915,0.92,0.925,0.93,0.935,0.94,0.945,0.95,0.955,0.96,0.965,0.97,0.975,0.98,0.985,0.99,0.995,1,1.005,1.01,1.015], "offset": -11, "tickSize": 11, "labelPadding": 11, "labelExpr": "abs(datum.value*20 - round(datum.value*20)) < 0.01 ? format(datum.value, '.2f') : ''", "title": "Relative brightness", "titlePadding": 4}},
   "color": {"field": "i", "type": "nominal", "scale": {"domain": ["TRAPPIST", "William Herschel", "Spitzer", "VLT", "Liverpool"], "range": ["#356aa6", "#d6579b", "#b0191d", "#e2262b", "#ff6464"]}, "legend": null},
   "detail": {"field": "c"}}},
{"data": {"name": "pts"}, "transform": [{"filter": "datum.p == 'd'"}],
 "mark": {"type": "errorbar", "color": "#8a8a8a", "thickness": 1},
 "encoding": {
   "x": {"field": "t", "type": "quantitative", "scale": {"domain": [-0.0494, 0.0494], "nice": false, "zero": false}, "axis": null},
   "y": {"field": "v", "type": "quantitative", "scale": {"domain": [0.8507, 1.0162], "nice": false, "zero": false}, "axis": null},
   "yError": {"field": "e"}}},
{"data": {"name": "pts"}, "transform": [{"filter": "datum.p == 'd'"}],
 "mark": {"type": "circle", "color": "black", "opacity": 1, "size": 42, "clip": true},
 "encoding": {
   "x": {"field": "t", "type": "quantitative", "scale": {"domain": [-0.0494, 0.0494], "nice": false, "zero": false},
     "axis": {"orient": "bottom", "values": [-0.048,-0.046,-0.044,-0.042,-0.04,-0.038,-0.036,-0.034,-0.032,-0.03,-0.028,-0.026,-0.024,-0.022,-0.02,-0.018,-0.016,-0.014,-0.012,-0.01,-0.008,-0.006,-0.004,-0.002,0,0.002,0.004,0.006,0.008,0.01,0.012,0.014,0.016,0.018,0.02,0.022,0.024,0.026,0.028,0.03,0.032,0.034,0.036,0.038,0.04,0.042,0.044,0.046,0.048], "offset": -5, "tickSize": 5, "labels": false, "title": null}},
   "y": {"field": "v", "type": "quantitative", "scale": {"domain": [0.8507, 1.0162], "nice": false, "zero": false},
     "axis": {"orient": "right", "values": [0.855,0.86,0.865,0.87,0.875,0.88,0.885,0.89,0.895,0.9,0.905,0.91,0.915,0.92,0.925,0.93,0.935,0.94,0.945,0.95,0.955,0.96,0.965,0.97,0.975,0.98,0.985,0.99,0.995,1,1.005,1.01,1.015], "offset": -11, "tickSize": 11, "labels": false, "title": null}}}},
{"data": {"name": "lab"}, "transform": [{"filter": "datum.p == 'd'"}],
 "mark": {"type": "text", "align": "left", "baseline": "middle", "dy": -20, "fontSize": 11.5},
 "encoding": {
   "x": {"datum": -0.045, "type": "quantitative", "scale": {"domain": [-0.0494, 0.0494], "nice": false, "zero": false},
     "axis": {"orient": "top", "values": [-0.04, -0.02, 0, 0.02, 0.04], "offset": -17, "tickSize": 17, "labels": false, "title": null}},
   "y": {"field": "b", "type": "quantitative", "scale": {"domain": [0.8507, 1.0162], "nice": false, "zero": false}, "axis": null},
   "text": {"field": "ep"},
   "color": {"field": "i", "type": "nominal", "scale": {"domain": ["TRAPPIST", "William Herschel", "Spitzer", "VLT", "Liverpool"], "range": ["#356aa6", "#d6579b", "#b0191d", "#e2262b", "#ff6464"]}, "legend": null}}},
{"data": {"name": "lab"}, "transform": [{"filter": "datum.p == 'd'"}],
 "mark": {"type": "text", "align": "right", "baseline": "middle", "dy": -20, "fontSize": 11.5},
 "encoding": {
   "x": {"datum": 0.045, "type": "quantitative", "scale": {"domain": [-0.0494, 0.0494], "nice": false, "zero": false},
     "axis": {"orient": "top", "values": [-0.03, -0.01, 0.01, 0.03], "offset": -10, "tickSize": 10, "labels": false, "title": null}},
   "y": {"field": "b", "type": "quantitative", "scale": {"domain": [0.8507, 1.0162], "nice": false, "zero": false}, "axis": null},
   "text": {"field": "i"},
   "color": {"field": "i", "type": "nominal", "scale": {"domain": ["TRAPPIST", "William Herschel", "Spitzer", "VLT", "Liverpool"], "range": ["#356aa6", "#d6579b", "#b0191d", "#e2262b", "#ff6464"]}, "legend": null}}},
{"data": {"values": [{"s": "TRAPPIST−1d"}]},
 "mark": {"type": "text", "align": "center", "baseline": "middle", "fontSize": 13, "color": "#6e6e6e"},
 "encoding": {
   "x": {"datum": 0, "type": "quantitative", "scale": {"domain": [-0.0494, 0.0494], "nice": false, "zero": false},
     "axis": {"orient": "top", "values": [-0.048,-0.046,-0.044,-0.042,-0.04,-0.038,-0.036,-0.034,-0.032,-0.03,-0.028,-0.026,-0.024,-0.022,-0.02,-0.018,-0.016,-0.014,-0.012,-0.01,-0.008,-0.006,-0.004,-0.002,0,0.002,0.004,0.006,0.008,0.01,0.012,0.014,0.016,0.018,0.02,0.022,0.024,0.026,0.028,0.03,0.032,0.034,0.036,0.038,0.04,0.042,0.044,0.046,0.048], "offset": -5, "tickSize": 5, "labels": false, "title": null}},
   "y": {"datum": 1.01, "type": "quantitative", "scale": {"domain": [0.8507, 1.0162], "nice": false, "zero": false}, "axis": null},
   "text": {"field": "s"}}}
]
},
{
"width": 340, "height": 725,
"resolve": {"axis": {"x": "independent", "y": "independent"}},
"layer": [
{"data": {"values": [{}]},
 "mark": {"type": "rule", "color": "#999", "strokeDash": [1, 2.5], "strokeWidth": 1},
 "encoding": {"x": {"datum": 0, "type": "quantitative", "scale": {"domain": [-0.0494, 0.0494], "nice": false, "zero": false},
   "axis": {"orient": "bottom", "values": [-0.04, -0.02, 0, 0.02, 0.04], "format": ".2f", "offset": -17, "tickSize": 17, "labelPadding": 9, "title": "Time from mid−transit [day]", "titlePadding": 6}}}},
{"data": {"name": "crv"}, "transform": [{"filter": "datum.p == 'e'"}],
 "mark": {"type": "line", "strokeWidth": 2, "interpolate": "monotone", "clip": true},
 "encoding": {
   "x": {"field": "t", "type": "quantitative", "scale": {"domain": [-0.0494, 0.0494], "nice": false, "zero": false},
     "axis": {"orient": "bottom", "values": [-0.03, -0.01, 0.01, 0.03], "offset": -10, "tickSize": 10, "labels": false, "title": null}},
   "y": {"field": "v", "type": "quantitative", "scale": {"domain": [0.8507, 1.0162], "nice": false, "zero": false},
     "axis": {"orient": "left", "values": [0.855,0.86,0.865,0.87,0.875,0.88,0.885,0.89,0.895,0.9,0.905,0.91,0.915,0.92,0.925,0.93,0.935,0.94,0.945,0.95,0.955,0.96,0.965,0.97,0.975,0.98,0.985,0.99,0.995,1,1.005,1.01,1.015], "offset": -11, "tickSize": 11, "labelPadding": 11, "labelExpr": "abs(datum.value*20 - round(datum.value*20)) < 0.01 ? format(datum.value, '.2f') : ''", "title": null}},
   "color": {"field": "i", "type": "nominal", "scale": {"domain": ["TRAPPIST", "William Herschel", "Spitzer", "VLT", "Liverpool"], "range": ["#356aa6", "#d6579b", "#b0191d", "#e2262b", "#ff6464"]}, "legend": null},
   "detail": {"field": "c"}}},
{"data": {"name": "pts"}, "transform": [{"filter": "datum.p == 'e'"}],
 "mark": {"type": "errorbar", "color": "#8a8a8a", "thickness": 1},
 "encoding": {
   "x": {"field": "t", "type": "quantitative", "scale": {"domain": [-0.0494, 0.0494], "nice": false, "zero": false}, "axis": null},
   "y": {"field": "v", "type": "quantitative", "scale": {"domain": [0.8507, 1.0162], "nice": false, "zero": false}, "axis": null},
   "yError": {"field": "e"}}},
{"data": {"name": "pts"}, "transform": [{"filter": "datum.p == 'e'"}],
 "mark": {"type": "circle", "color": "black", "opacity": 1, "size": 42, "clip": true},
 "encoding": {
   "x": {"field": "t", "type": "quantitative", "scale": {"domain": [-0.0494, 0.0494], "nice": false, "zero": false},
     "axis": {"orient": "bottom", "values": [-0.048,-0.046,-0.044,-0.042,-0.04,-0.038,-0.036,-0.034,-0.032,-0.03,-0.028,-0.026,-0.024,-0.022,-0.02,-0.018,-0.016,-0.014,-0.012,-0.01,-0.008,-0.006,-0.004,-0.002,0,0.002,0.004,0.006,0.008,0.01,0.012,0.014,0.016,0.018,0.02,0.022,0.024,0.026,0.028,0.03,0.032,0.034,0.036,0.038,0.04,0.042,0.044,0.046,0.048], "offset": -5, "tickSize": 5, "labels": false, "title": null}},
   "y": {"field": "v", "type": "quantitative", "scale": {"domain": [0.8507, 1.0162], "nice": false, "zero": false},
     "axis": {"orient": "right", "values": [0.855,0.86,0.865,0.87,0.875,0.88,0.885,0.89,0.895,0.9,0.905,0.91,0.915,0.92,0.925,0.93,0.935,0.94,0.945,0.95,0.955,0.96,0.965,0.97,0.975,0.98,0.985,0.99,0.995,1,1.005,1.01,1.015], "offset": -11, "tickSize": 11, "labels": false, "title": null}}}},
{"data": {"name": "lab"}, "transform": [{"filter": "datum.p == 'e'"}],
 "mark": {"type": "text", "align": "left", "baseline": "middle", "dy": -20, "fontSize": 11.5},
 "encoding": {
   "x": {"datum": -0.045, "type": "quantitative", "scale": {"domain": [-0.0494, 0.0494], "nice": false, "zero": false},
     "axis": {"orient": "top", "values": [-0.04, -0.02, 0, 0.02, 0.04], "offset": -17, "tickSize": 17, "labels": false, "title": null}},
   "y": {"field": "b", "type": "quantitative", "scale": {"domain": [0.8507, 1.0162], "nice": false, "zero": false}, "axis": null},
   "text": {"field": "ep"},
   "color": {"field": "i", "type": "nominal", "scale": {"domain": ["TRAPPIST", "William Herschel", "Spitzer", "VLT", "Liverpool"], "range": ["#356aa6", "#d6579b", "#b0191d", "#e2262b", "#ff6464"]}, "legend": null}}},
{"data": {"name": "lab"}, "transform": [{"filter": "datum.p == 'e'"}],
 "mark": {"type": "text", "align": "right", "baseline": "middle", "dy": -20, "fontSize": 11.5},
 "encoding": {
   "x": {"datum": 0.045, "type": "quantitative", "scale": {"domain": [-0.0494, 0.0494], "nice": false, "zero": false},
     "axis": {"orient": "top", "values": [-0.03, -0.01, 0.01, 0.03], "offset": -10, "tickSize": 10, "labels": false, "title": null}},
   "y": {"field": "b", "type": "quantitative", "scale": {"domain": [0.8507, 1.0162], "nice": false, "zero": false}, "axis": null},
   "text": {"field": "i"},
   "color": {"field": "i", "type": "nominal", "scale": {"domain": ["TRAPPIST", "William Herschel", "Spitzer", "VLT", "Liverpool"], "range": ["#356aa6", "#d6579b", "#b0191d", "#e2262b", "#ff6464"]}, "legend": null}}},
{"data": {"values": [{"s": "TRAPPIST−1e"}]},
 "mark": {"type": "text", "align": "center", "baseline": "middle", "fontSize": 13, "color": "#6e6e6e"},
 "encoding": {
   "x": {"datum": 0, "type": "quantitative", "scale": {"domain": [-0.0494, 0.0494], "nice": false, "zero": false},
     "axis": {"orient": "top", "values": [-0.048,-0.046,-0.044,-0.042,-0.04,-0.038,-0.036,-0.034,-0.032,-0.03,-0.028,-0.026,-0.024,-0.022,-0.02,-0.018,-0.016,-0.014,-0.012,-0.01,-0.008,-0.006,-0.004,-0.002,0,0.002,0.004,0.006,0.008,0.01,0.012,0.014,0.016,0.018,0.02,0.022,0.024,0.026,0.028,0.03,0.032,0.034,0.036,0.038,0.04,0.042,0.044,0.046,0.048], "offset": -5, "tickSize": 5, "labels": false, "title": null}},
   "y": {"datum": 1.01, "type": "quantitative", "scale": {"domain": [0.8507, 1.0162], "nice": false, "zero": false}, "axis": null},
   "text": {"field": "s"}}}
]
}
]
}
